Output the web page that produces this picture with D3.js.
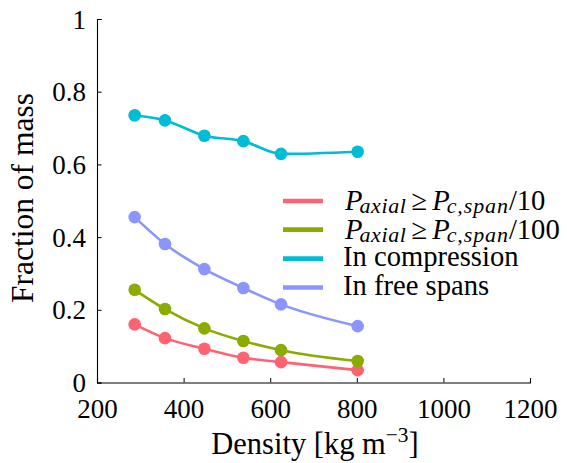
<!DOCTYPE html>
<html><head><meta charset="utf-8">
<script src="https://cdn.jsdelivr.net/npm/d3@7"></script>
<style>body{margin:0;background:#fff}svg{display:block}</style>
</head><body>
<svg id="c" width="567" height="463"></svg>
<script>
const density = [287, 357, 448, 538, 625, 802];
const pAxial10 = [0.160, 0.122, 0.093, 0.068, 0.056, 0.034];
const pAxial100 = [0.255, 0.202, 0.149, 0.114, 0.089, 0.059];
const inCompression = [0.735, 0.721, 0.679, 0.664, 0.629, 0.635];
const inFreeSpans = [0.455, 0.381, 0.312, 0.260, 0.215, 0.155];
const xTicks = [200, 400, 600, 800, 1000, 1200];
const yTicks = [0, 0.2, 0.4, 0.6, 0.8, 1];
const yTickLabels = ["0", "0.2", "0.4", "0.6", "0.8", "1"];

const series = [
  {key:"p10", values:pAxial10, color:"#ff6372"},
  {key:"p100", values:pAxial100, color:"#8aab00"},
  {key:"comp", values:inCompression, color:"#00bcd6"},
  {key:"free", values:inFreeSpans, color:"#8c95ff"}
];

const FONT = "'Liberation Serif', 'Times New Roman', Times, 'DejaVu Serif', serif";
const svg = d3.select("#c").attr("font-family", FONT);
const x = d3.scaleLinear().domain([200, 1200]).range([97, 530]);
const y = d3.scaleLinear().domain([0, 1]).range([382.5, 19]);
const FS = 27;

// axes
const xAxis = svg.append("g").attr("transform", `translate(0,${y(0)})`)
  .call(d3.axisBottom(x).tickValues(xTicks).tickSize(-4.5).tickFormat(d3.format("d")).tickPadding(16.5));
const yAxis = svg.append("g").attr("transform", `translate(${x(200)},0)`)
  .call(d3.axisLeft(y).tickValues(yTicks).tickSize(-4.5).tickFormat((d,i)=>yTickLabels[i]).tickPadding(11));
[xAxis, yAxis].forEach(g => {
  g.attr("font-family", FONT).attr("font-size", FS);
  g.select(".domain").attr("stroke", "#000").attr("stroke-width", 1.1);
  g.selectAll(".tick line").attr("stroke", "#000").attr("stroke-width", 1);
  g.selectAll(".tick text").attr("fill", "#000");
});
xAxis.selectAll(".tick text").attr("dy", "0.71em");
yAxis.selectAll(".tick text").attr("dy", "0.34em");

// lines
const line = d3.line().x((d,i)=>x(density[i])).y(d=>y(d)).curve(d3.curveMonotoneX);
series.forEach(s => {
  svg.append("path").datum(s.values).attr("d", line)
    .attr("fill", "none").attr("stroke", s.color).attr("stroke-width", 2.6);
  svg.append("g").selectAll("circle").data(s.values).join("circle")
    .attr("cx", (d,i)=>x(density[i])).attr("cy", d=>y(d)).attr("r", 6.3).attr("fill", s.color);
});

// axis labels
const LFS = 30.5;
svg.append("text").attr("x", 315).attr("y", 454).attr("text-anchor", "middle").attr("font-size", LFS)
  .call(t => {
    t.append("tspan").text("Density [kg m");
    t.append("tspan").attr("font-size", LFS*0.7).attr("dy", -12).text("−3");
    t.append("tspan").attr("dy", 12).text("]");
  });
svg.append("text").attr("transform", "translate(33,198) rotate(-90)").attr("text-anchor", "middle")
  .attr("font-size", 31.5).text("Fraction of mass");

// legend
const legX = 283, legW = 40, textX = 343;
const legY = [201, 229.7, 258.7, 287.5];
const GFS = 28.6, SFS = 22;
series.forEach((s, i) => {
  svg.append("line").attr("x1", legX).attr("x2", legX+legW).attr("y1", legY[i]).attr("y2", legY[i])
    .attr("stroke", s.color).attr("stroke-width", 4.7);
});
function mathEntry(i, denom) {
  const t = svg.append("text").attr("x", textX + 2).attr("y", legY[i] + 9.3).attr("font-size", GFS);
  t.append("tspan").attr("font-style", "italic").text("P");
  t.append("tspan").attr("font-style", "italic").attr("font-size", SFS).attr("letter-spacing", 0.6)
    .attr("dy", 3).attr("dx", -3).text("axial");
  t.append("tspan").attr("dy", -3).attr("dx", 5).text("≥");
  t.append("tspan").attr("dx", 5).attr("font-style", "italic").text("P");
  t.append("tspan").attr("font-style", "italic").attr("font-size", SFS).attr("letter-spacing", 0.9)
    .attr("dy", 3).attr("dx", -3).text("c,span");
  t.append("tspan").attr("dy", -3).attr("dx", 0).text("/" + denom);
}
mathEntry(0, "10");
mathEntry(1, "100");
svg.append("text").attr("x", textX).attr("y", legY[2] + 7.4).attr("font-size", GFS).text("In compression");
svg.append("text").attr("x", textX).attr("y", legY[3] + 7.4).attr("font-size", GFS).text("In free spans");
</script>
</body></html>
